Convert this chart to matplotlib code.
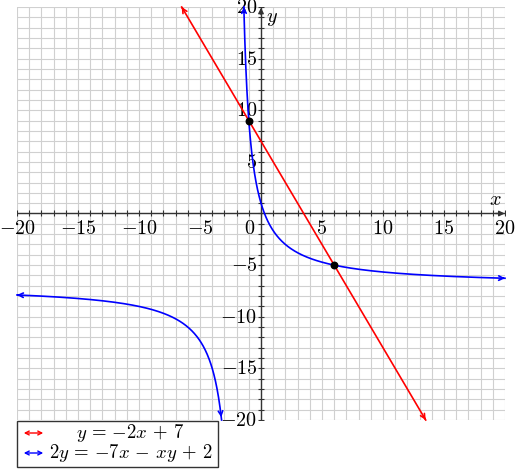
import matplotlib.pyplot as plt
import numpy as np
from matplotlib.patches import Rectangle, FancyArrowPatch

plt.rcParams['mathtext.fontset'] = 'cm'
plt.rcParams['font.family'] = 'serif'
plt.rcParams['font.serif'] = ['DejaVu Serif']

# line: y = m*x + b
line_m, line_b = -2, 7
# curve: 2y = -7x - xy + 2  ->  y = (2 - 7x) / (x + 2)
curve_num = [-7, 2]      # -7x + 2
curve_den = [1, 2]       # x + 2
x_range = [-20, 20]
y_range = [-20, 20]
points_x = [-1, 6]
points_y = [9, -5]
tick_vals = [-20, -15, -10, -5, 5, 10, 15, 20]
legend_labels = [r'$y\,=\,{-}2x\,+\,7$', r'$2y\,=\,{-}7x\,-\,xy\,+\,2$']

fig = plt.figure(figsize=(5.15, 4.69), dpi=100)
ax = fig.add_axes([17 / 515, 49 / 469, 488 / 515, 413 / 469])
ax.set_xlim(*x_range)
ax.set_ylim(*y_range)
for s in ax.spines.values():
    s.set_visible(False)
ax.set_xticks([])
ax.set_yticks([])

grid = np.arange(-20, 21)
for g in grid:
    ax.axvline(g, color='#d0d0d0', lw=0.8, zorder=0)
    ax.axhline(g, color='#d0d0d0', lw=0.8, zorder=0)

axc = '#333333'
ax.plot(x_range, [0, 0], color=axc, lw=1.0, zorder=1)
ax.plot([0, 0], y_range, color=axc, lw=1.0, zorder=1)
ax.annotate('', xy=(20.2, 0), xytext=(19.0, 0),
            arrowprops=dict(arrowstyle='-|>', color=axc, lw=1.0, mutation_scale=8),
            annotation_clip=False)
ax.annotate('', xy=(0, 20.2), xytext=(0, 19.0),
            arrowprops=dict(arrowstyle='-|>', color=axc, lw=1.0, mutation_scale=8),
            annotation_clip=False)
# small ticks on axes
ax.plot(grid, np.zeros_like(grid), ls='none', marker='|', ms=5, color=axc, mew=0.8, zorder=1)
ax.plot(np.zeros_like(grid), grid, ls='none', marker='_', ms=5, color=axc, mew=0.8, zorder=1)

fs = 14.5
for t in tick_vals:
    ax.text(t, -0.5, r'$%d$' % t, ha='center', va='top', fontsize=fs, clip_on=False)
    ax.text(-0.3, t - 0.05, r'$%d$' % t, ha='right', va='center', fontsize=fs, clip_on=False)
ax.text(-0.9, -0.5, r'$0$', ha='center', va='top', fontsize=fs)
ax.text(19.2, 0.4, r'$x$', ha='center', va='bottom', fontsize=fs)
ax.text(0.4, 19.8, r'$y$', ha='left', va='top', fontsize=fs)


def arrow_line(xs, ys, color):
    ax.plot(xs, ys, color=color, lw=1.2, zorder=3, clip_on=False)
    ax.annotate('', xy=(xs[0], ys[0]), xytext=(xs[2], ys[2]),
                arrowprops=dict(arrowstyle='->', color=color, lw=1.2, mutation_scale=8),
                annotation_clip=False, zorder=3)
    ax.annotate('', xy=(xs[-1], ys[-1]), xytext=(xs[-3], ys[-3]),
                arrowprops=dict(arrowstyle='->', color=color, lw=1.2, mutation_scale=8),
                annotation_clip=False, zorder=3)


# red line
x_top = (y_range[1] - line_b) / line_m
x_bot = (y_range[0] - line_b) / line_m
lx = np.linspace(x_top, x_bot, 200)
arrow_line(lx, line_m * lx + line_b, 'red')


def curve(x):
    return (curve_num[0] * x + curve_num[1]) / (curve_den[0] * x + curve_den[1])


def x_at(y):
    # solve y*(x+2) = -7x + 2
    return (curve_num[1] - y * curve_den[1]) / (y * curve_den[0] - curve_num[0])


# left branch
cx1 = np.linspace(x_range[0], x_at(y_range[0]), 400)
arrow_line(cx1, curve(cx1), 'blue')
# right branch
cx2 = np.concatenate([np.linspace(x_at(y_range[1]), 0, 400), np.linspace(0, x_range[1], 400)[1:]])
arrow_line(cx2, curve(cx2), 'blue')

ax.scatter(points_x, points_y, s=22, color='black', zorder=5)

# legend box
fig.add_artist(Rectangle((17 / 515, 2 / 469), 201 / 515, 46 / 469, transform=fig.transFigure,
                         facecolor='white', edgecolor='#333333', lw=1.0, zorder=10))
for i, (lab, col) in enumerate(zip(legend_labels, ['red', 'blue'])):
    yy = (469 - 433 - 20 * i) / 469
    fig.add_artist(FancyArrowPatch((21 / 515, yy), (46 / 515, yy), transform=fig.transFigure,
                                   arrowstyle='<->', color=col, lw=1.0, mutation_scale=7,
                                   zorder=11))
    if i == 0:
        fig.text(130 / 515, yy, lab, ha='center', va='center', fontsize=13.5, zorder=11)
    else:
        fig.text(49 / 515, yy, lab, ha='left', va='center', fontsize=13.5, zorder=11)

fig.savefig('out.png', dpi=100)
